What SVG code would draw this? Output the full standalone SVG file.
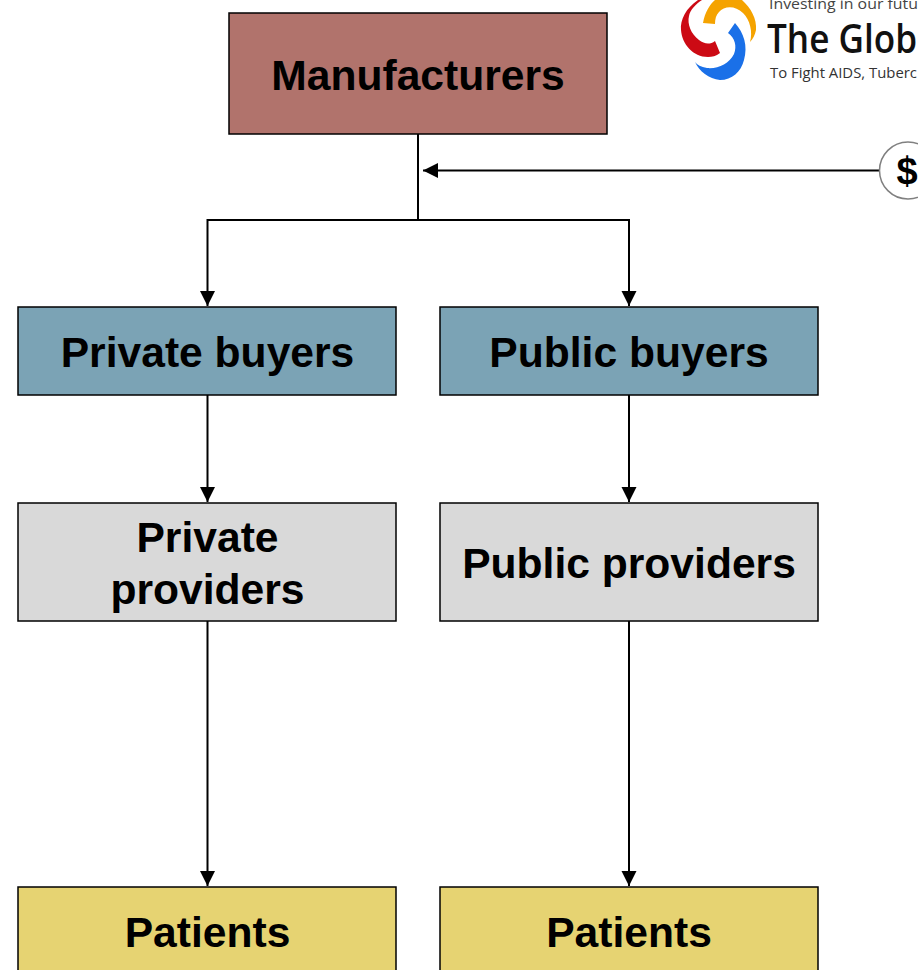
<svg xmlns="http://www.w3.org/2000/svg" width="918" height="970" viewBox="0 0 918 970">
<style>
.box{stroke:#000;stroke-width:1.5}
.lbl{font-family:"Liberation Sans",Arial,sans-serif;font-weight:700;font-size:42.600px;fill:#000;text-anchor:middle}
.c{fill:none;stroke:#000;stroke-width:2}
.mfr{fill:#b1736c}.buy{fill:#7ba3b5}.prov{fill:#d9d9d9}.pat{fill:#e6d372}
.lg{font-family:"Open Sans","Noto Sans",sans-serif}
</style>
<defs>
<marker id="a" markerUnits="userSpaceOnUse" markerWidth="16" markerHeight="16" refX="15" refY="8" orient="auto"><path d="M0 0.500L15 8L0 15.500Z" fill="#000"/></marker>
</defs>
<rect width="918" height="970" fill="#fff"/>
<g id="connectors">
<path class="c" d="M418 134V220"/>
<path class="c" d="M418 220H207.500V306" marker-end="url(#a)"/>
<path class="c" d="M418 220H629V306" marker-end="url(#a)"/>
<path class="c" d="M880 170.500H423" marker-end="url(#a)"/>
<path class="c" d="M207.500 395V502" marker-end="url(#a)"/>
<path class="c" d="M629 395V502" marker-end="url(#a)"/>
<path class="c" d="M207.500 621V886" marker-end="url(#a)"/>
<path class="c" d="M629 621V886" marker-end="url(#a)"/>
</g>
<g id="manufacturers"><rect class="box mfr" x="229" y="13" width="378" height="121"/><text class="lbl" x="418" y="90">Manufacturers</text></g>
<g id="private-buyers"><rect class="box buy" x="18" y="307" width="378" height="88"/><text class="lbl" x="207.500" y="367">Private buyers</text></g>
<g id="public-buyers"><rect class="box buy" x="440" y="307" width="378" height="88"/><text class="lbl" x="629" y="367">Public buyers</text></g>
<g id="private-providers"><rect class="box prov" x="18" y="503" width="378" height="118"/><text class="lbl" x="207.500" y="552">Private</text><text class="lbl" x="207.500" y="604">providers</text></g>
<g id="public-providers"><rect class="box prov" x="440" y="503" width="378" height="118"/><text class="lbl" x="629" y="578">Public providers</text></g>
<g id="patients-private"><rect class="box pat" x="18" y="887" width="378" height="90"/><text class="lbl" x="207.500" y="947">Patients</text></g>
<g id="patients-public"><rect class="box pat" x="440" y="887" width="378" height="90"/><text class="lbl" x="629" y="947">Patients</text></g>
<g id="funder"><circle cx="908" cy="170.500" r="28.500" fill="#fff" stroke="#808080" stroke-width="1.500"/><text class="lbl" x="907" y="184" style="font-size:38px">$</text></g>
<g id="logo">
<path d="M703 23C705 12 710 4 715 0H742C751 8 757 19 756 30C755 35 753 39 750 42C753 32 750 20 743 13C735 5 724 6 719 12C716 15 715 19 715 24Z" fill="#f5a300"/>
<path d="M698 0C686 8 680 20 681 30C682 44 693 57 708 57C712 57 716 56 720 53L715 41C710 45 704 44 699 40C691 34 687 24 689 16C690 10 696 4 702 0Z" fill="#cc0a14"/>
<path d="M735 23L728 33C735 38 737 46 734 54C729 64 718 69 707 68C701 67 697 65 695 62C699 71 709 79 720 80C732 80 741 72 744 60C748 46 744 33 735 23Z" fill="#1a70e8"/>
<text class="lg" x="769" y="9" textLength="149" lengthAdjust="spacingAndGlyphs" style="font-size:14.500px;fill:#444">Investing in our futu</text>
<text class="lg" x="767" y="53" textLength="150" lengthAdjust="spacingAndGlyphs" style="font-weight:600;font-size:39px;fill:#111">The Glob</text>
<text class="lg" x="770" y="78" textLength="147" lengthAdjust="spacingAndGlyphs" style="font-size:14.500px;fill:#333">To Fight AIDS, Tuberc</text>
</g>
</svg>
